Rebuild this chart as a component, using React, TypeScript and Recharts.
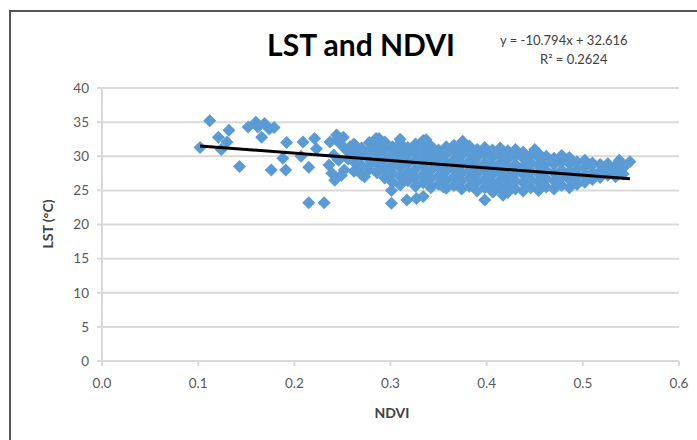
import { Scatter, ScatterChart, CartesianGrid, XAxis, YAxis } from "recharts";

// trendline (Excel linear fit shown on the chart)
const slope = -10.794;
const intercept = 32.616;
const trendRange = [0.102, 0.549];

const xTicks = [0, 0.1, 0.2, 0.3, 0.4, 0.5, 0.6];
const yTicks = [0, 5, 10, 15, 20, 25, 30, 35, 40];

// scattered points on the low-NDVI side
const lowNdviPoints: [number, number][] = [
  [0.102, 31.3], [0.112, 35.2], [0.121, 32.8], [0.124, 31.0], [0.13, 32.1],
  [0.132, 33.8], [0.143, 28.5], [0.152, 34.3], [0.16, 35.0], [0.162, 34.3],
  [0.166, 32.8], [0.169, 34.8], [0.174, 34.0], [0.179, 34.2], [0.176, 28.0],
  [0.192, 32.0], [0.191, 28.0], [0.188, 29.7], [0.207, 30.0], [0.209, 32.1],
  [0.215, 28.4], [0.215, 23.2], [0.221, 32.6], [0.223, 31.1], [0.231, 23.2],
  [0.237, 32.1], [0.239, 27.5], [0.242, 26.5], [0.244, 33.1], [0.246, 29.4],
  [0.251, 32.8], [0.252, 28.0], [0.254, 30.9], [0.248, 31.8], [0.241, 30.2],
  [0.236, 28.7], [0.249, 27.2], [0.256, 29.6], [0.244, 32.4], [0.258, 31.4],
];

// outliers around the main band
const outlierPoints: [number, number][] = [
  [0.273, 27.0], [0.288, 32.6], [0.285, 32.6], [0.301, 25.0], [0.301, 23.1],
  [0.317, 23.6], [0.327, 23.8], [0.334, 24.1], [0.337, 32.4], [0.355, 25.5],
  [0.375, 32.2], [0.398, 23.6], [0.407, 24.8], [0.417, 24.3], [0.45, 31.0],
  [0.538, 29.4], [0.549, 29.2], [0.31, 32.5], [0.266, 28.7], [0.28, 29.0],
];

// dense band, NDVI column with the LST values stacked in it
const bandColumns: [number, number[]][] = [
  [0.262, [27.8, 29.2, 30.6, 31.8]],
  [0.27, [27.3, 28.6, 30.1, 31.2]],
  [0.278, [28.1, 29.5, 30.8, 32.0]],
  [0.286, [27.6, 28.9, 30.3, 31.5]],
  [0.294, [26.8, 28.2, 29.6, 30.9, 32.1]],
  [0.302, [26.2, 27.5, 28.8, 30.2, 31.4]],
  [0.31, [25.8, 27.0, 28.3, 29.6, 30.8, 31.9]],
  [0.318, [26.4, 27.6, 28.9, 30.2, 31.3]],
  [0.326, [25.6, 26.9, 28.1, 29.4, 30.6, 31.8]],
  [0.334, [26.1, 27.3, 28.6, 29.9, 31.1, 32.3]],
  [0.342, [25.4, 26.7, 27.9, 29.2, 30.4, 31.5]],
  [0.35, [25.9, 27.1, 28.4, 29.7, 30.9]],
  [0.358, [25.3, 26.5, 27.8, 29.0, 30.3, 31.4]],
  [0.366, [25.7, 27.0, 28.2, 29.5, 30.7, 31.6]],
  [0.374, [25.2, 26.4, 27.6, 28.9, 30.1, 31.2]],
  [0.382, [25.6, 26.8, 28.0, 29.3, 30.5, 31.5]],
  [0.39, [24.9, 26.2, 27.4, 28.7, 29.9, 31.0]],
  [0.398, [25.4, 26.6, 27.9, 29.1, 30.4, 31.3]],
  [0.406, [24.8, 26.0, 27.3, 28.5, 29.8, 30.9]],
  [0.414, [25.3, 26.5, 27.7, 29.0, 30.2, 31.2]],
  [0.422, [24.7, 25.9, 27.1, 28.4, 29.6, 30.8]],
  [0.43, [25.2, 26.4, 27.6, 28.8, 30.1, 31.0]],
  [0.438, [24.9, 26.1, 27.3, 28.5, 29.7, 30.6]],
  [0.446, [25.4, 26.6, 27.8, 29.0, 30.2]],
  [0.454, [25.0, 26.2, 27.4, 28.6, 29.8, 30.4]],
  [0.462, [25.5, 26.7, 27.9, 29.1, 30.0]],
  [0.47, [25.2, 26.4, 27.6, 28.8, 29.7]],
  [0.478, [25.7, 26.9, 28.0, 29.2, 30.1]],
  [0.486, [25.4, 26.6, 27.7, 28.9, 29.8]],
  [0.494, [25.9, 27.0, 28.1, 29.2]],
  [0.502, [26.2, 27.3, 28.4, 29.4]],
  [0.51, [26.6, 27.6, 28.7, 29.0]],
  [0.518, [26.9, 27.8, 28.8]],
  [0.526, [27.2, 28.1, 28.9]],
  [0.534, [27.0, 27.9, 28.6]],
  [0.542, [27.4, 28.3]],
];

const points = [
  ...lowNdviPoints,
  ...outlierPoints,
  ...bandColumns.flatMap(([x, ys]) => ys.map((y) => [x, y] as [number, number])),
].map(([ndvi, lst]) => ({ ndvi, lst }));

const trend = trendRange.map((ndvi) => ({ ndvi, lst: intercept + slope * ndvi }));

const font = "Lato, 'Open Sans', sans-serif";
const tickStyle = { fontSize: 13.5, fill: "#595959", fontFamily: font };

const Diamond = (props: any) => {
  const { cx, cy } = props;
  const r = 6.5;
  return (
    <polygon
      points={`${cx},${cy - r} ${cx + r},${cy} ${cx},${cy + r} ${cx - r},${cy}`}
      fill="#5b9bd5"
    />
  );
};

export default function App() {
  return (
    <div style={{ position: "absolute", left: 0, top: 0, width: 697, height: 440, background: "#fff", overflow: "hidden" }}>
      <div style={{ position: "absolute", left: 9, top: 10, right: 0, bottom: 0, borderLeft: "2px solid #555", borderTop: "2px solid #555" }} />
      <ScatterChart width={697} height={440} margin={{ top: 88, right: 18, bottom: 49, left: 62 }}>
        <CartesianGrid vertical={false} stroke="#d9d9d9" strokeWidth={2} />
        <XAxis
          type="number"
          dataKey="ndvi"
          domain={[0, 0.6]}
          ticks={xTicks}
          tickFormatter={(v: number) => v.toFixed(1)}
          tick={tickStyle}
          stroke="#d9d9d9"
          strokeWidth={2}
          tickSize={5}
          tickMargin={12}
          height={30}
          allowDataOverflow
        />
        <YAxis
          type="number"
          dataKey="lst"
          domain={[0, 40]}
          ticks={yTicks}
          tick={tickStyle}
          stroke="#d9d9d9"
          strokeWidth={2}
          tickSize={5}
          tickMargin={8}
          width={40}
        />
        <Scatter data={points} shape={Diamond} isAnimationActive={false} />
        <Scatter data={trend} line={{ stroke: "#000", strokeWidth: 3 }} shape={() => null} isAnimationActive={false} />
      </ScatterChart>
      <div style={{ position: "absolute", left: 0, width: 722, top: 25, textAlign: "center", fontFamily: font, fontWeight: 700, fontSize: 30, color: "#000", lineHeight: "38px" }}>
        LST and NDVI
      </div>
      <div style={{ position: "absolute", left: 500, top: 31, fontFamily: font, fontSize: 13, color: "#404040", lineHeight: "18px", whiteSpace: "nowrap" }}>
        y = -10.794x + 32.616
      </div>
      <div style={{ position: "absolute", left: 540, top: 50, fontFamily: font, fontSize: 13, color: "#404040", lineHeight: "18px", whiteSpace: "nowrap" }}>
        R² = 0.2624
      </div>
      <div style={{ position: "absolute", left: 352, width: 80, top: 404, textAlign: "center", fontFamily: font, fontWeight: 700, fontSize: 14, color: "#404040", lineHeight: "18px" }}>
        NDVI
      </div>
      <div style={{ position: "absolute", left: 47, top: 224, transform: "translate(-50%, -50%) rotate(-90deg)", fontFamily: font, fontWeight: 700, fontSize: 14, color: "#404040", whiteSpace: "nowrap" }}>
        LST (°C)
      </div>
    </div>
  );
}
